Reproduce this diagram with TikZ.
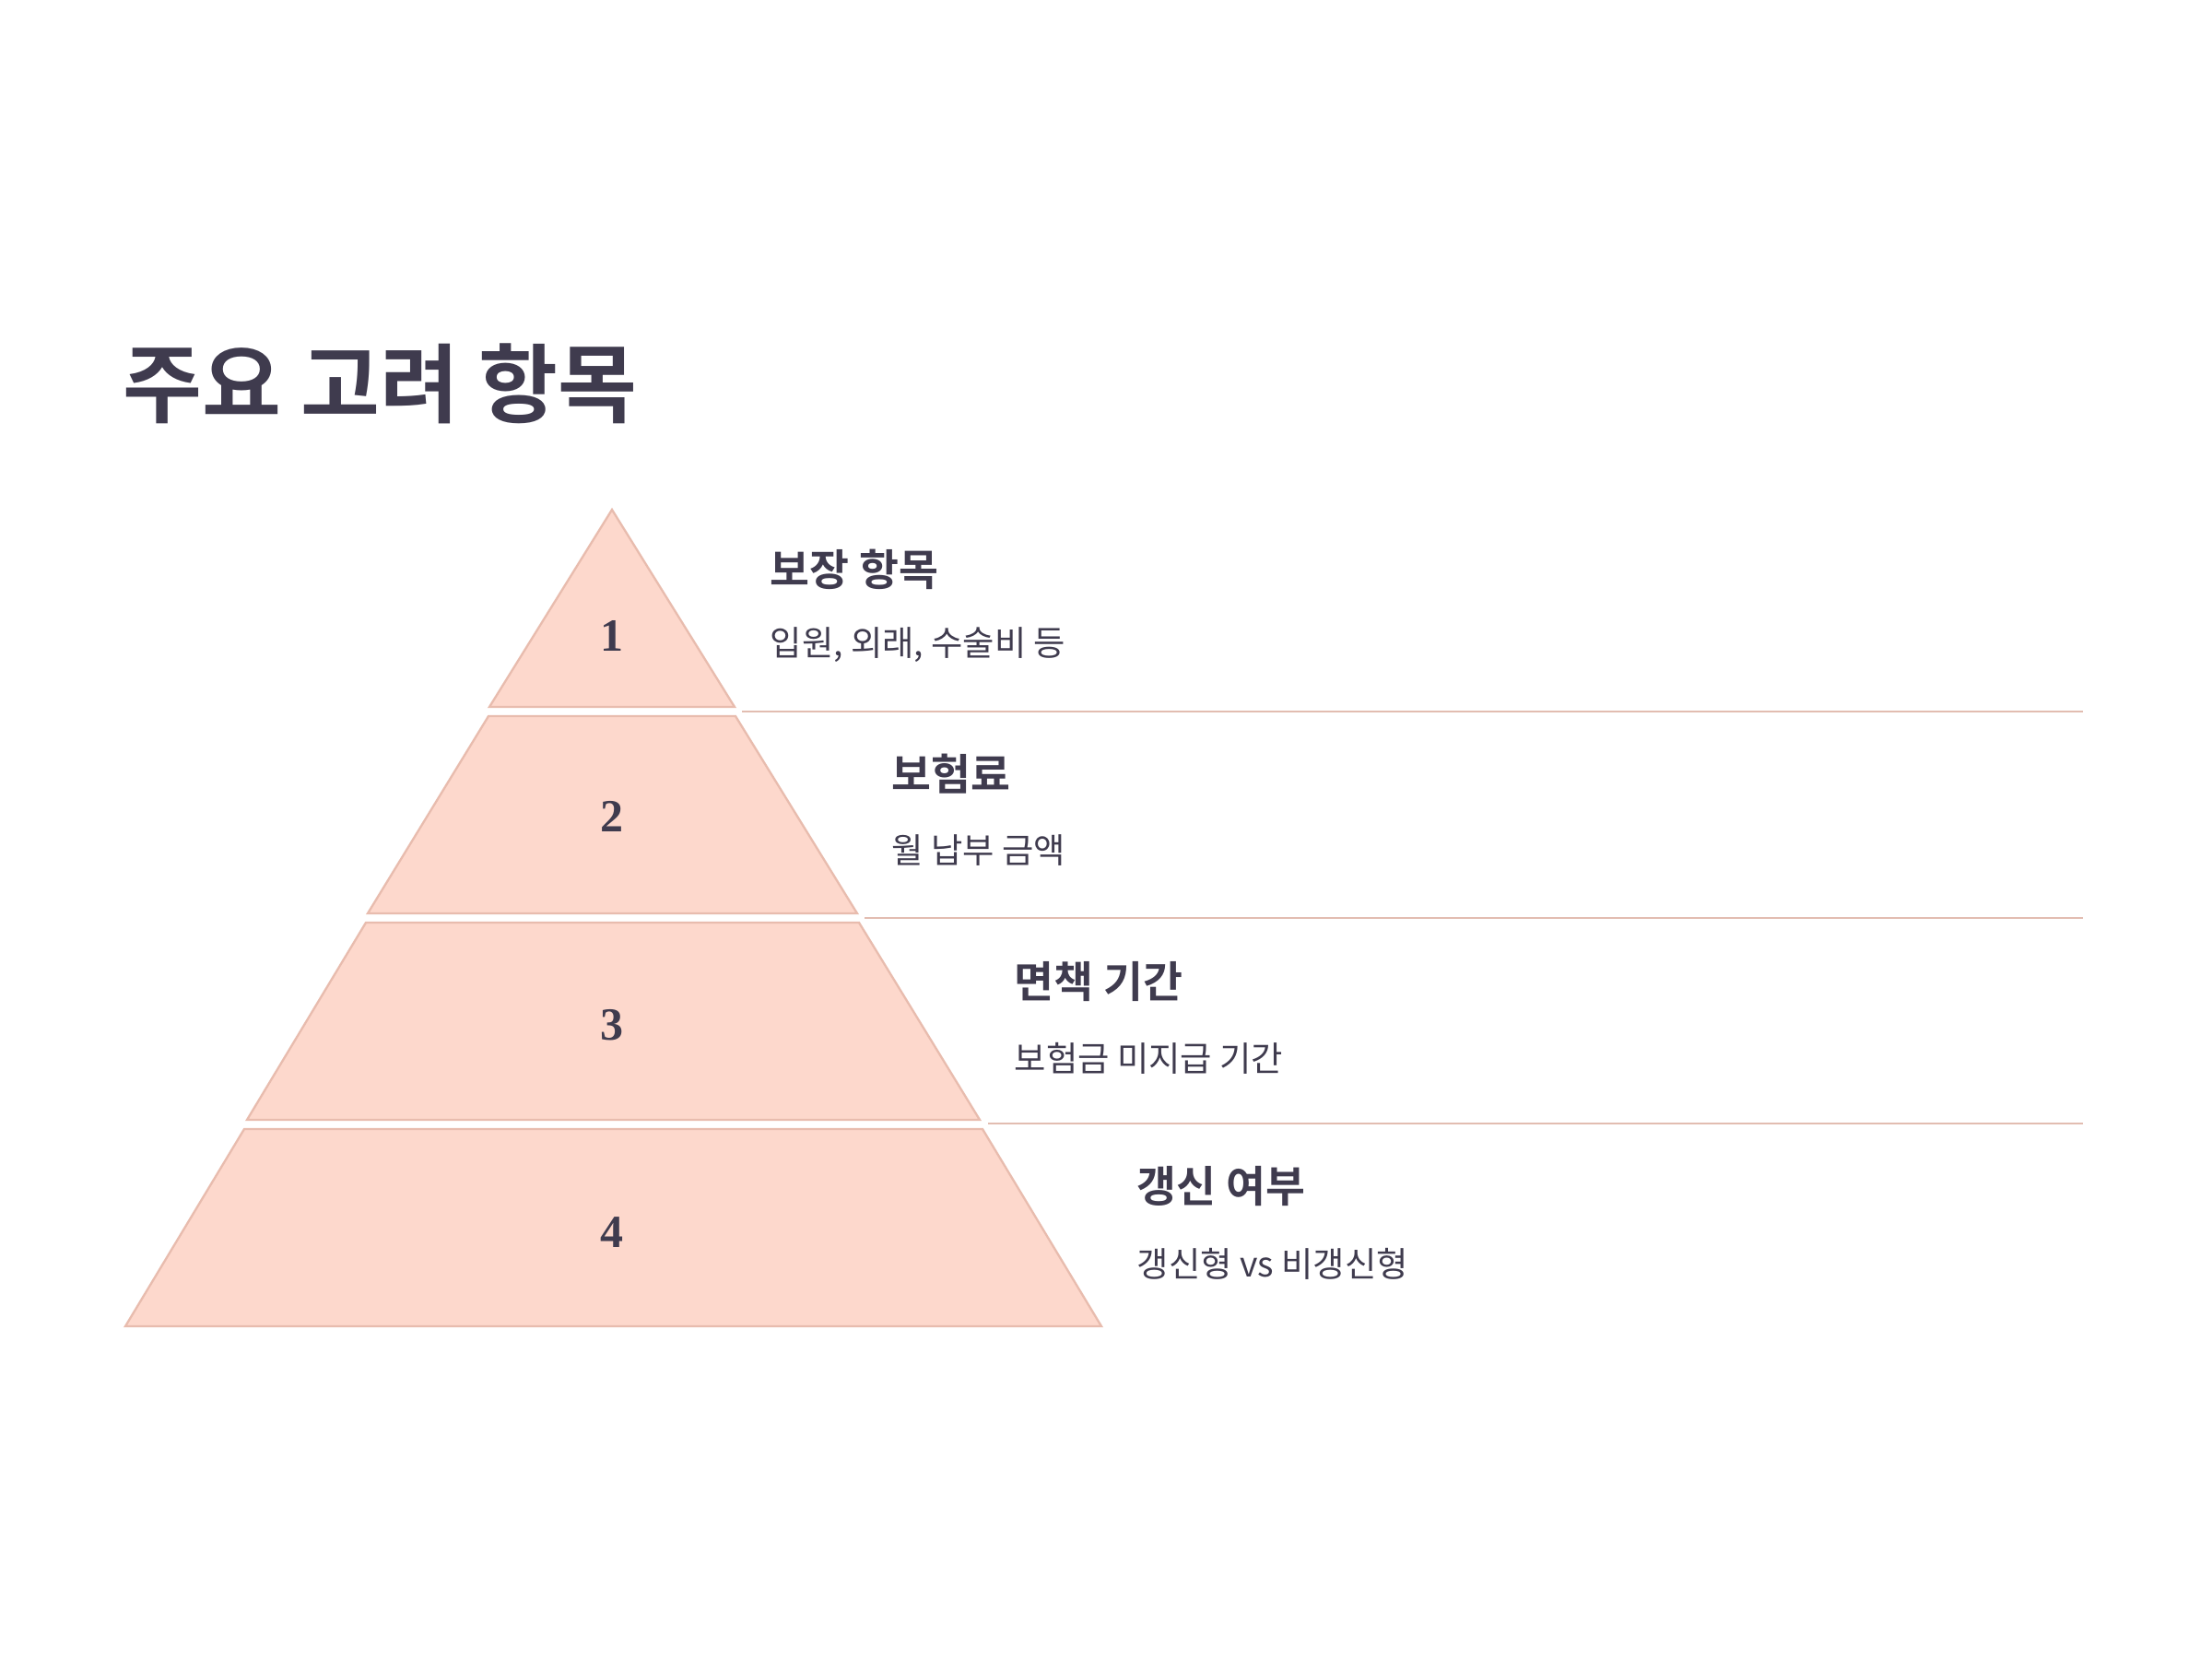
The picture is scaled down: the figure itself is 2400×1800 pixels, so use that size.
\documentclass[tikz,border=0pt]{standalone}
\usepackage{fontspec}
\setmainfont{Liberation Serif}
\newfontfamily\kr{Noto Sans CJK KR}
\newfontfamily\krb{Noto Sans CJK KR Bold}
\newfontfamily\numfont{Liberation Serif}
\definecolor{ink}{HTML}{3F3B4E}
\definecolor{layerfill}{HTML}{FDD8CC}
\definecolor{layerdraw}{HTML}{E8BCAE}
\definecolor{rulecol}{HTML}{E2BDB1}
\tikzset{
  layer/.style={fill=layerfill, draw=layerdraw, line width=0.7pt, line join=miter},
  divider/.style={draw=rulecol, line width=0.8pt},
  num/.style={font=\numfont\bfseries\fontsize{15}{18}\selectfont, text=ink, inner sep=0pt},
  head/.style={anchor=west, inner sep=0pt, text=ink, font=\krb\fontsize{14}{17}\selectfont},
  sub/.style={anchor=west, inner sep=0pt, text=ink, font=\kr\fontsize{11.2}{13}\selectfont},
}
\begin{document}
\begin{tikzpicture}[x=0.3pt,y=-0.3pt]
\useasboundingbox (0,0) rectangle (2400,1800);
\fill[white] (0,0) rectangle (2400,1800);
% title
\node[anchor=west, inner sep=0pt, text=ink, font=\krb\fontsize{28}{34}\selectfont] (title) at (133,416) {주요 고려 항목};
% pyramid layers
\filldraw[layer] (664,553) -- (797,767) -- (531,767) -- cycle;
\filldraw[layer] (530,777) -- (798,777) -- (930,991) -- (399,991) -- cycle;
\filldraw[layer] (397,1001) -- (932,1001) -- (1063,1215) -- (268,1215) -- cycle;
\filldraw[layer] (265,1225) -- (1066,1225) -- (1195,1439) -- (136,1439) -- cycle;
% numbers
\node[num] (n1) at (664,690) {1};
\node[num] (n2) at (664,886) {2};
\node[num] (n3) at (664,1112) {3};
\node[num] (n4) at (664,1337) {4};
% dividers
\coordinate (d1a) at (805,772); \coordinate (d1b) at (2260,772);
\coordinate (d2a) at (938,996); \coordinate (d2b) at (2260,996);
\coordinate (d3a) at (1072,1219); \coordinate (d3b) at (2260,1219);
\draw[divider] (d1a) -- (d1b);
\draw[divider] (d2a) -- (d2b);
\draw[divider] (d3a) -- (d3b);
% labels
\node[head] (h1) at (835,618) {보장 항목};
\node[sub] (s1) at (835,700) {입원, 외래, 수술비 등};
\node[head] (h2) at (967,840) {보험료};
\node[sub] (s2) at (967,923) {월 납부 금액};
\node[head] (h3) at (1100,1065) {면책 기간};
\node[sub] (s3) at (1100,1148) {보험금 미지급 기간};
\node[head] (h4) at (1233,1287) {갱신 여부};
\node[sub] (s4) at (1233,1371) {갱신형 vs 비갱신형};
\end{tikzpicture}
\end{document}
